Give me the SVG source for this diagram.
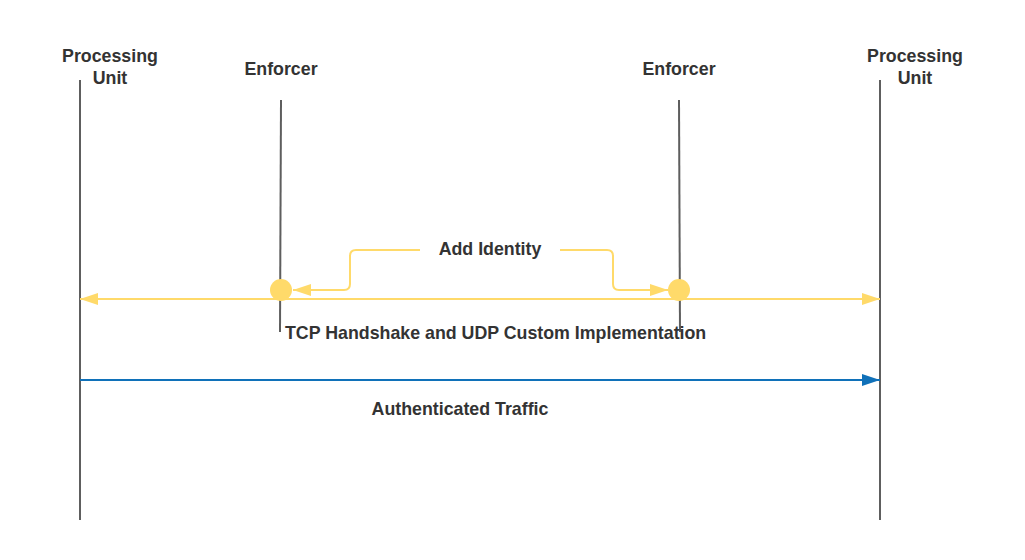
<svg xmlns="http://www.w3.org/2000/svg" width="1025" height="560" viewBox="0 0 1025 560">
<defs>
<style>
.t{font-family:"Liberation Sans",Arial,sans-serif;font-weight:bold;font-size:17.8px;fill:#333333;}
.life{stroke:#5e5e5e;stroke-width:2;fill:none;}
.y{stroke:#FFDA6A;stroke-width:2;fill:none;}
.b{stroke:#1071B9;stroke-width:2;fill:none;}
</style>
<marker id="ya" viewBox="0 0 18 12" refX="18" refY="6" markerWidth="18" markerHeight="12" markerUnits="userSpaceOnUse" orient="auto-start-reverse">
<path d="M0,0 L18,6 L0,12 Z" fill="#FFDA6A"/>
</marker>
<marker id="ba" viewBox="0 0 18 12" refX="18" refY="6" markerWidth="18" markerHeight="12" markerUnits="userSpaceOnUse" orient="auto">
<path d="M0,0 L18,6 L0,12 Z" fill="#1071B9"/>
</marker>
</defs>
<rect width="1025" height="560" fill="#ffffff"/>
<g id="pu-left">
<line class="life" x1="80" y1="80" x2="80" y2="520"/>
<text class="t" x="110" y="62" text-anchor="middle">Processing</text>
<text class="t" x="110" y="84" text-anchor="middle">Unit</text>
</g>
<g id="pu-right">
<line class="life" x1="880" y1="80" x2="880" y2="520"/>
<text class="t" x="915" y="62" text-anchor="middle">Processing</text>
<text class="t" x="915" y="84" text-anchor="middle">Unit</text>
</g>
<g id="enf-left">
<line class="life" x1="281" y1="100" x2="280" y2="332"/>
<text class="t" x="281" y="75" text-anchor="middle">Enforcer</text>
<circle cx="281" cy="290" r="11" fill="#FFDA6A"/>
</g>
<g id="enf-right">
<line class="life" x1="679" y1="100" x2="680" y2="332"/>
<text class="t" x="679" y="75" text-anchor="middle">Enforcer</text>
<circle cx="679" cy="290" r="11" fill="#FFDA6A"/>
</g>
<g id="connectors">
<line class="y" x1="80" y1="299" x2="880" y2="299" marker-start="url(#ya)" marker-end="url(#ya)"/>
<path class="y" d="M420,250 H356 Q350,250 350,256 V284 Q350,290 344,290 H293" marker-end="url(#ya)"/>
<path class="y" d="M560,250 H607 Q613,250 613,256 V284 Q613,290 619,290 H668" marker-end="url(#ya)"/>
<line class="b" x1="80" y1="380" x2="880" y2="380" marker-end="url(#ba)"/>
</g>
<g id="labels">
<text class="t" x="490" y="255" text-anchor="middle">Add Identity</text>
<text class="t" x="285" y="339">TCP Handshake and UDP Custom Implementation</text>
<text class="t" x="460" y="415" text-anchor="middle">Authenticated Traffic</text>
</g>
</svg>
